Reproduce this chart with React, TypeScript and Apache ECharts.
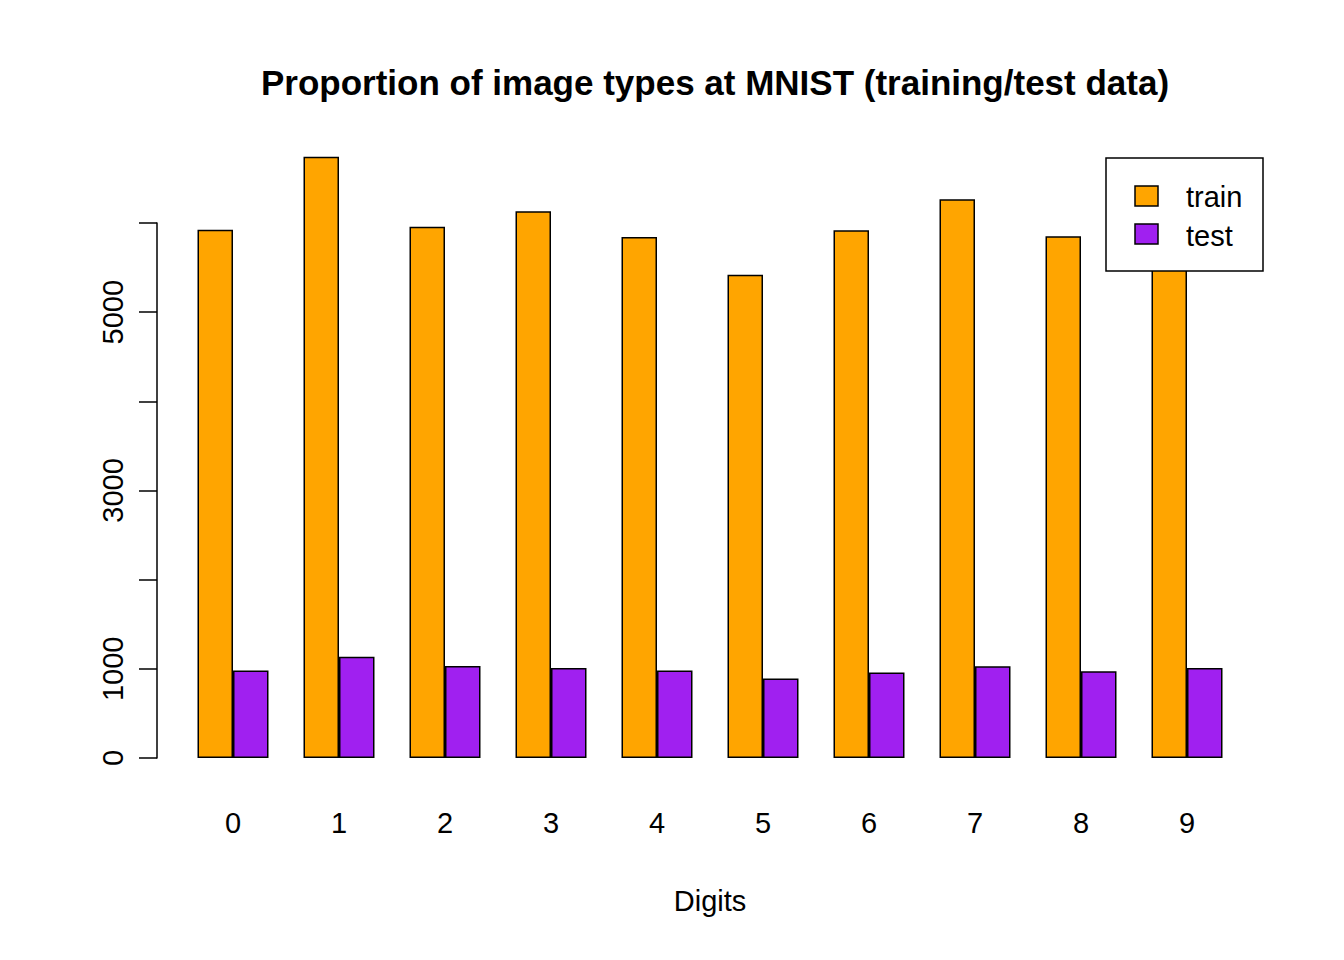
import React, { useEffect, useRef } from "react";
import * as echarts from "echarts";

const digits = ["0", "1", "2", "3", "4", "5", "6", "7", "8", "9"];
const train = [5923, 6742, 5958, 6131, 5842, 5421, 5918, 6265, 5851, 5949];
const test = [980, 1135, 1032, 1010, 982, 892, 958, 1028, 974, 1009];
const shownTicks = [0, 1000, 3000, 5000];

export default function App() {
  const ref = useRef<HTMLDivElement>(null);
  useEffect(() => {
    document.body.style.margin = "0";
    const chart = echarts.init(ref.current!, null, { renderer: "svg" });
    const font = "Liberation Sans, Arial, sans-serif";
    chart.setOption({
      animation: false,
      backgroundColor: "#fff",
      title: {
        text: "Proportion of image types at MNIST (training/test data)",
        left: 710, top: 60, textAlign: "center",
        textStyle: { fontFamily: font, fontSize: 35, fontWeight: "bold", color: "#000" },
      },
      grid: { left: 180, right: 104, top: 223, bottom: 202 },
      xAxis: {
        type: "category", data: digits,
        name: "Digits", nameLocation: "middle", nameGap: 128,
        nameTextStyle: { fontFamily: font, fontSize: 29, color: "#000" },
        axisLine: { show: false }, axisTick: { show: false },
        axisLabel: { fontFamily: font, fontSize: 29, color: "#000", margin: 50 },
      },
      yAxis: {
        type: "value", min: 0, max: 6000, interval: 1000, offset: 23,
        splitLine: { show: false },
        axisLine: { show: true, lineStyle: { color: "#000", width: 1.5 } },
        axisTick: { show: true, length: 18, lineStyle: { color: "#000", width: 1.5 } },
        axisLabel: {
          rotate: 90, fontFamily: font, fontSize: 29, color: "#000", margin: 30,
          formatter: (v: number) => (shownTicks.includes(v) ? String(v) : ""),
        },
      },
      series: [
        { name: "train", type: "bar", data: train, barWidth: 35.5, barGap: "0%", clip: false,
          itemStyle: { color: "#FFA500", borderColor: "#000", borderWidth: 1.5 } },
        { name: "test", type: "bar", data: test, barWidth: 35.5, barGap: "0%", clip: false,
          itemStyle: { color: "#A020F0", borderColor: "#000", borderWidth: 1.5 } },
      ],
      graphic: [
        { type: "rect", shape: { x: 1106, y: 158, width: 157, height: 113 },
          style: { fill: "#fff", stroke: "#000", lineWidth: 1.5 }, z: 100 },
        { type: "rect", shape: { x: 1135, y: 186, width: 23, height: 20 },
          style: { fill: "#FFA500", stroke: "#000", lineWidth: 1.5 }, z: 101 },
        { type: "rect", shape: { x: 1135, y: 224, width: 23, height: 20 },
          style: { fill: "#A020F0", stroke: "#000", lineWidth: 1.5 }, z: 101 },
        { type: "text", x: 1186, y: 197, z: 101,
          style: { text: "train", fontFamily: font, fontSize: 29, fill: "#000", verticalAlign: "middle" } },
        { type: "text", x: 1186, y: 236, z: 101,
          style: { text: "test", fontFamily: font, fontSize: 29, fill: "#000", verticalAlign: "middle" } },
      ],
    });
    return () => chart.dispose();
  }, []);
  return <div ref={ref} style={{ width: 1344, height: 960 }} />;
}
